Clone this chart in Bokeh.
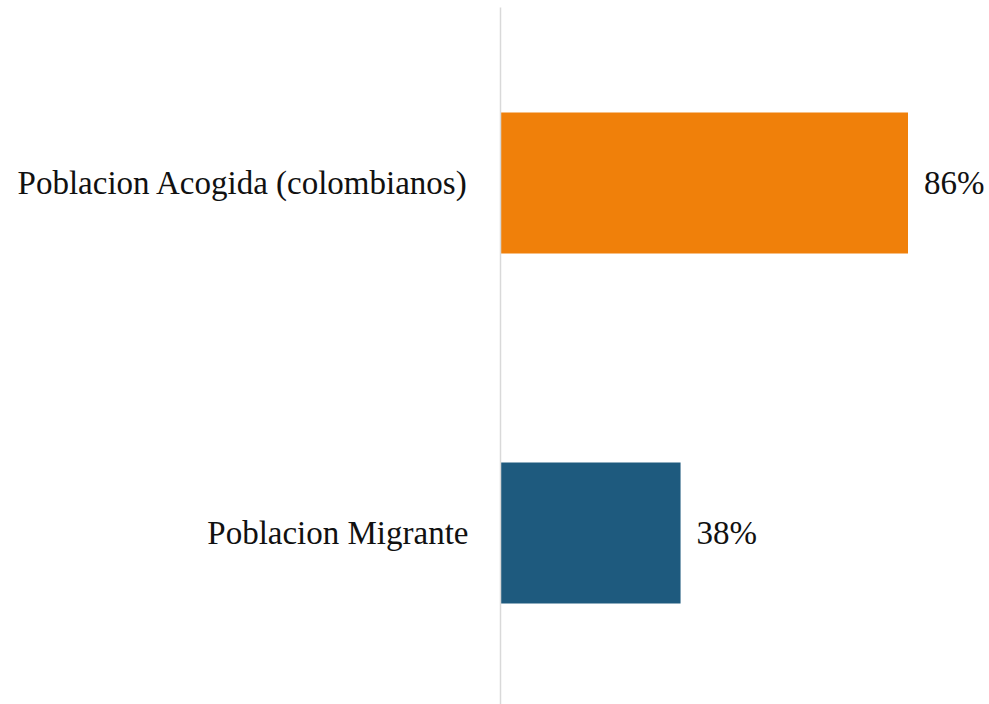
from bokeh.plotting import figure
from bokeh.models import Range1d, FixedTicker, ColumnDataSource, LabelSet
from bokeh.embed import file_html
from bokeh.resources import INLINE

categories = ["Poblacion Acogida (colombianos)", "Poblacion Migrante"]
values = [86, 38]
value_labels = ["86%", "38%"]
colors = ["#F0800A", "#1E5A7E"]

FONT = "Liberation Serif"

positions = list(range(len(categories)))
src = ColumnDataSource(dict(y=positions, v=values, lab=value_labels, c=colors))

p = figure(width=989, height=704, output_backend="svg", toolbar_location=None,
           x_range=Range1d(0, 103.2), y_range=Range1d(1.49, -0.5014),
           min_border_left=500, min_border_right=0, min_border_top=7, min_border_bottom=0)

p.hbar(y="y", right="v", left=0, height=0.403, color="c", line_color=None, source=src)

labels = LabelSet(x="v", y="y", text="lab", source=src, x_offset=16,
                  text_baseline="middle", text_align="left",
                  text_font=FONT, text_font_size="33px", text_color="#111111")
p.add_layout(labels)

p.xaxis.visible = False
p.xgrid.grid_line_color = None
p.ygrid.grid_line_color = None
p.outline_line_color = None

ya = p.yaxis[0]
ya.ticker = FixedTicker(ticks=positions)
ya.major_label_overrides = {i: c for i, c in zip(positions, categories)}
ya.major_tick_in = 0
ya.major_tick_out = 0
ya.minor_tick_in = 0
ya.minor_tick_out = 0
ya.axis_line_color = "#D9D9D9"
ya.axis_line_width = 1.5
ya.major_label_standoff = 32
ya.major_label_text_font = FONT
ya.major_label_text_font_size = "33px"
ya.major_label_text_color = "#111111"

open("out.html", "w").write(file_html(p, INLINE))
